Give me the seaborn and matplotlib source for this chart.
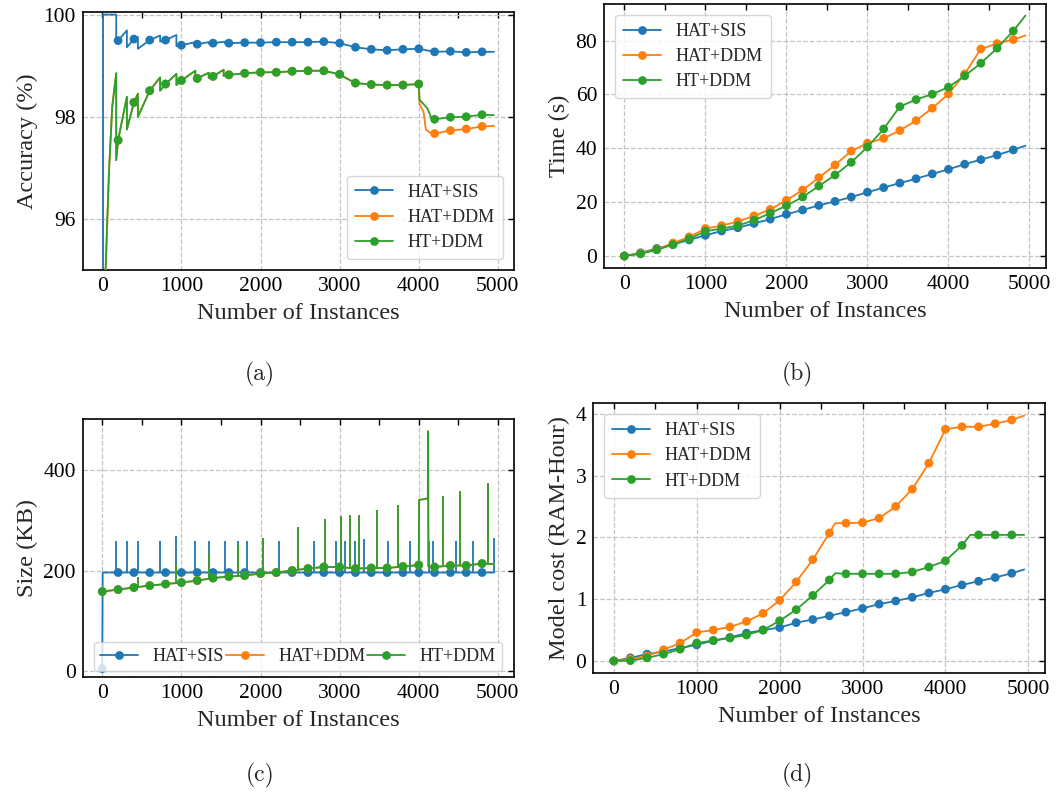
import numpy as np
import pandas as pd
import matplotlib
matplotlib.use("Agg")
import matplotlib.pyplot as plt
from matplotlib.lines import Line2D
from matplotlib.ticker import MultipleLocator, FixedLocator
import seaborn as sns

sns.set_theme(style="white")
plt.rcParams['font.family'] = ['Liberation Serif', 'DejaVu Serif']

# ---------------- data ----------------
series_names = ["HAT+SIS", "HAT+DDM", "HT+DDM"]
series_colors = ["#1f77b4", "#ff7f0e", "#2ca02c"]

# (a) Accuracy (%)
acc_sis_x = [0, 10, 176, 176, 200, 311, 311, 400, 450, 450, 600, 731, 731, 800, 937, 937, 1000,
             1176, 1176, 1200, 1345, 1345, 1400, 1550, 1550, 1600, 1800, 2000, 2200, 2400, 2600,
             2800, 3000, 3100, 3200, 3400, 3600, 3800, 4000, 4100, 4200, 4400, 4600, 4800, 4950]
acc_sis_y = [0, 100, 100, 99.45, 99.49, 99.69, 99.36, 99.52, 99.56, 99.33, 99.50, 99.59, 99.47, 99.50,
             99.60, 99.38, 99.40, 99.46, 99.41, 99.42, 99.46, 99.43, 99.44, 99.47, 99.44, 99.44, 99.45,
             99.45, 99.46, 99.46, 99.46, 99.47, 99.44, 99.40, 99.36, 99.32, 99.30, 99.32, 99.33, 99.30,
             99.27, 99.28, 99.26, 99.27, 99.27]

acc_ddm_common_x = [0, 42, 84, 126, 176, 176, 200, 311, 311, 400, 450, 450, 600, 731, 731, 800, 937, 937,
                    1000, 1176, 1176, 1200, 1345, 1345, 1400, 1534, 1534, 1600, 1800, 2000, 2200, 2400,
                    2600, 2800, 3000, 3100, 3200, 3400, 3600, 3800, 4000]
acc_ddm_common_y = [0, 95.0, 96.9, 98.2, 98.85, 97.15, 97.54, 98.39, 97.75, 98.28, 98.45, 98.00, 98.51,
                    98.77, 98.51, 98.64, 98.84, 98.62, 98.71, 98.90, 98.72, 98.75, 98.86, 98.76, 98.79,
                    98.92, 98.80, 98.82, 98.85, 98.87, 98.87, 98.89, 98.90, 98.90, 98.83, 98.74, 98.66,
                    98.63, 98.62, 98.62, 98.64]
acc_hat_ddm_tail_x = [4010, 4060, 4090, 4150, 4200, 4400, 4600, 4800, 4950]
acc_hat_ddm_tail_y = [98.25, 98.10, 97.75, 97.68, 97.67, 97.73, 97.76, 97.81, 97.82]
acc_ht_ddm_tail_x = [4010, 4060, 4110, 4160, 4200, 4400, 4600, 4800, 4950]
acc_ht_ddm_tail_y = [98.33, 98.25, 98.16, 97.97, 97.95, 97.99, 98.00, 98.04, 98.03]

# (b) Time (s)
time_x = [0, 200, 400, 600, 800, 1000, 1200, 1400, 1600, 1800, 2000, 2200, 2400, 2600, 2800,
          3000, 3200, 3400, 3600, 3800, 4000, 4200, 4400, 4600, 4800, 4950]
time_sis = [0, 1.2, 2.8, 4.3, 6.0, 7.7, 9.3, 10.5, 12.1, 13.7, 15.5, 17.1, 18.8, 20.3, 21.9,
            23.7, 25.4, 27.1, 28.7, 30.5, 32.2, 34.1, 35.8, 37.5, 39.4, 41.0]
time_hat_ddm = [0, 1.0, 2.5, 4.8, 7.1, 10.2, 11.3, 12.8, 14.9, 17.3, 20.7, 24.5, 29.1, 33.8, 39.0,
                41.9, 43.7, 46.6, 50.3, 54.9, 60.2, 67.6, 76.9, 78.9, 80.4, 81.9]
time_ht_ddm = [0, 0.8, 2.3, 4.2, 6.4, 9.2, 10.2, 11.3, 13.3, 15.9, 18.7, 21.9, 26.0, 30.1, 34.8,
               40.5, 47.2, 55.5, 58.1, 60.1, 62.7, 66.9, 71.6, 77.2, 83.6, 89.3]

# (c) Size (KB)
size_sis_x = [0, 5, 200, 400, 600, 800, 1000, 1200, 1400, 1600, 1800, 2000, 2200, 2400, 2600, 2800,
              3000, 3200, 3400, 3600, 3800, 4000, 4200, 4400, 4600, 4800, 4950]
size_sis_y = [4, 196, 196, 196, 196, 196, 196, 196, 196, 196, 196, 196, 196, 196, 196, 196,
              196, 196, 196, 196, 196, 196, 196, 196, 196, 196, 196]
size_ddm_x = [0, 200, 400, 600, 800, 1000, 1200, 1400, 1600, 1800, 2000, 2200, 2400, 2600, 2800,
              3000, 3200, 3400, 3600, 3800, 4000, 4005, 4115, 4118, 4122, 4200, 4400, 4600, 4800, 4950]
size_ddm_y = [158, 162, 166, 170, 173, 176, 180, 185, 188, 190, 194, 196, 200, 204, 207,
              207, 204, 205, 205, 208, 211, 341, 344, 478, 208, 207, 210, 210, 214, 213]
spike_sis_x = [176, 311, 450, 731, 937, 1176, 1345, 1550, 1718, 1832, 2231, 2678, 2954, 3071,
               3188, 3305, 3607, 3891, 4130, 4184, 4473, 4686, 4946]
spike_sis_top = [259, 259, 259, 259, 268, 259, 259, 259, 259, 259, 259, 259, 259, 259,
                 259, 263, 259, 259, 259, 259, 259, 259, 265]
spike_ddm_x = [176, 450, 937, 1345, 1718, 2029, 2471, 2820, 3017, 3126, 3243, 3477, 3736, 4301, 4527, 4879]
spike_ddm_top = [170, 187, 214, 236, 250, 265, 286, 302, 308, 310, 311, 321, 331, 349, 358, 374]

# (d) Model cost (RAM-Hour)
cost_sis_x = [0, 200, 400, 600, 800, 1000, 1200, 1400, 1600, 1800, 2000, 2200, 2400, 2600, 2800,
              3000, 3200, 3400, 3600, 3800, 4000, 4200, 4400, 4600, 4800, 4950]
cost_sis_y = [0, 0.05, 0.11, 0.15, 0.21, 0.26, 0.33, 0.38, 0.45, 0.50, 0.54, 0.62, 0.67, 0.73, 0.79,
              0.85, 0.92, 0.97, 1.03, 1.10, 1.16, 1.23, 1.29, 1.35, 1.42, 1.48]
cost_hat_ddm_x = [0, 200, 400, 600, 800, 1000, 1200, 1400, 1600, 1800, 2000, 2200, 2400, 2600, 2670,
                  2800, 3000, 3200, 3400, 3600, 3800, 4000, 4200, 4400, 4600, 4800, 4950]
cost_hat_ddm_y = [0, 0.03, 0.08, 0.18, 0.29, 0.46, 0.50, 0.55, 0.64, 0.77, 0.98, 1.28, 1.64, 2.07, 2.23,
                  2.23, 2.24, 2.31, 2.50, 2.78, 3.20, 3.75, 3.79, 3.79, 3.84, 3.90, 3.97]
cost_ht_ddm_x = [0, 200, 400, 600, 800, 1000, 1200, 1400, 1600, 1800, 2000, 2200, 2400, 2600, 2670,
                 2800, 3000, 3200, 3400, 3600, 3800, 4000, 4200, 4300, 4400, 4600, 4800, 4950]
cost_ht_ddm_y = [0, 0.005, 0.05, 0.11, 0.19, 0.29, 0.33, 0.37, 0.42, 0.50, 0.65, 0.83, 1.06, 1.31, 1.42,
                 1.41, 1.41, 1.41, 1.41, 1.44, 1.52, 1.62, 1.87, 2.04, 2.04, 2.04, 2.04, 2.04]

# ---------------- figure ----------------
W, H = 1062, 799
fig = plt.figure(figsize=(W / 100, H / 100), dpi=100)


def rect(l, r, t, b):
    return [l / W, 1 - b / H, (r - l) / W, (b - t) / H]


ax_a = fig.add_axes(rect(82.7, 513.5, 12, 270))
ax_b = fig.add_axes(rect(604.3, 1045.5, 4, 268))
ax_c = fig.add_axes(rect(82.7, 513.5, 419.3, 676.7))
ax_d = fig.add_axes(rect(593.3, 1044.7, 403.3, 673.3))

TICK_FS = 15.5
LABEL_FS = 17.5
LEG_FS = 13
MS = 40
LW = 1.3
LEG_KW = dict(fontsize=LEG_FS, labelspacing=0.45, handletextpad=0.8, handlelength=2.1,
              borderpad=0.45)


def draw(ax, x, y, i):
    df = pd.DataFrame({"x": x, "y": y})
    sns.lineplot(data=df, x="x", y="y", ax=ax, color=series_colors[i], lw=LW,
                 estimator=None, sort=False, zorder=2 + i)
    mk = df[(df["x"] % 200 == 0)].drop_duplicates("x")
    sns.scatterplot(data=mk, x="x", y="y", ax=ax, color=series_colors[i], s=MS,
                    edgecolor="none", linewidth=0, zorder=2 + i, clip_on=True)


def handles():
    return [Line2D([], [], color=c, lw=LW, marker='o', markersize=6.3, markeredgewidth=0)
            for c in series_colors]


def style(ax, ylabel, ylab_x):
    ax.set_xlim(-247.5, 5197.5)
    ax.xaxis.set_major_locator(MultipleLocator(1000))
    ax.xaxis.set_minor_locator(MultipleLocator(500))
    ax.tick_params(which='both', direction='in', top=True, right=True, length=4.5, width=1.0,
                   labelsize=TICK_FS, colors='black', pad=5)
    ax.tick_params(axis='y', which='minor', length=0)
    ax.grid(True, which='major', linestyle='--', color='#c4c4c4', linewidth=0.9)
    for s in ax.spines.values():
        s.set_color('black')
        s.set_linewidth(1.2)
    ax.set_xlabel("Number of Instances", fontsize=LABEL_FS, labelpad=5)
    ax.set_ylabel(ylabel, fontsize=LABEL_FS)
    ax.yaxis.set_label_coords(ylab_x, 0.5)


# (a)
draw(ax_a, acc_sis_x, acc_sis_y, 0)
draw(ax_a, acc_ddm_common_x + acc_hat_ddm_tail_x, acc_ddm_common_y + acc_hat_ddm_tail_y, 1)
draw(ax_a, acc_ddm_common_x + acc_ht_ddm_tail_x, acc_ddm_common_y + acc_ht_ddm_tail_y, 2)
ax_a.set_ylim(95, 100.05)
ax_a.yaxis.set_major_locator(FixedLocator([96, 98, 100]))
style(ax_a, "Accuracy (%)", -0.104)
ax_a.legend(handles(), series_names, loc='lower right', borderaxespad=0.6, **LEG_KW)

# (b)
draw(ax_b, time_x, time_sis, 0)
draw(ax_b, time_x, time_hat_ddm, 1)
draw(ax_b, time_x, time_ht_ddm, 2)
ax_b.set_ylim(-4.45, 93.6)
ax_b.yaxis.set_major_locator(MultipleLocator(20))
style(ax_b, "Time (s)", -0.078)
ax_b.legend(handles(), series_names, loc='upper left', borderaxespad=0.6, **LEG_KW)

# (c)
draw(ax_c, size_sis_x, size_sis_y, 0)
ax_c.vlines(spike_sis_x, 196, spike_sis_top, color=series_colors[0], lw=LW, zorder=2)
draw(ax_c, size_ddm_x, size_ddm_y, 1)
draw(ax_c, size_ddm_x, size_ddm_y, 2)
ddm_base = np.interp(spike_ddm_x, size_ddm_x[:21], size_ddm_y[:21])
ax_c.vlines(spike_ddm_x, ddm_base, spike_ddm_top, color=series_colors[1], lw=LW, zorder=3)
ax_c.vlines(spike_ddm_x, ddm_base, spike_ddm_top, color=series_colors[2], lw=LW, zorder=4)
ax_c.set_ylim(-12, 502)
ax_c.yaxis.set_major_locator(MultipleLocator(200))
style(ax_c, "Size (KB)", -0.104)
leg_c_kw = dict(LEG_KW)
leg_c_kw.update(borderpad=0.35)
ax_c.legend(handles(), series_names, loc='lower center', ncol=3, columnspacing=0.1,
            borderaxespad=0.3, **leg_c_kw)

# (d)
draw(ax_d, cost_sis_x, cost_sis_y, 0)
draw(ax_d, cost_hat_ddm_x, cost_hat_ddm_y, 1)
draw(ax_d, cost_ht_ddm_x, cost_ht_ddm_y, 2)
ax_d.set_ylim(-0.2, 4.17)
ax_d.yaxis.set_major_locator(MultipleLocator(1))
style(ax_d, "Model cost (RAM-Hour)", -0.052)
ax_d.legend(handles(), series_names, loc='upper left', borderaxespad=0.6, **LEG_KW)

# captions
for txt, cx, cy in [("(a)", 260, 374), ("(b)", 797, 374), ("(c)", 260, 775), ("(d)", 797, 775)]:
    fig.text(cx / W, 1 - cy / H, txt, ha='center', va='center', fontsize=17,
             family=['cmr10', 'DejaVu Serif'])

fig.savefig("out.png", dpi=100)
